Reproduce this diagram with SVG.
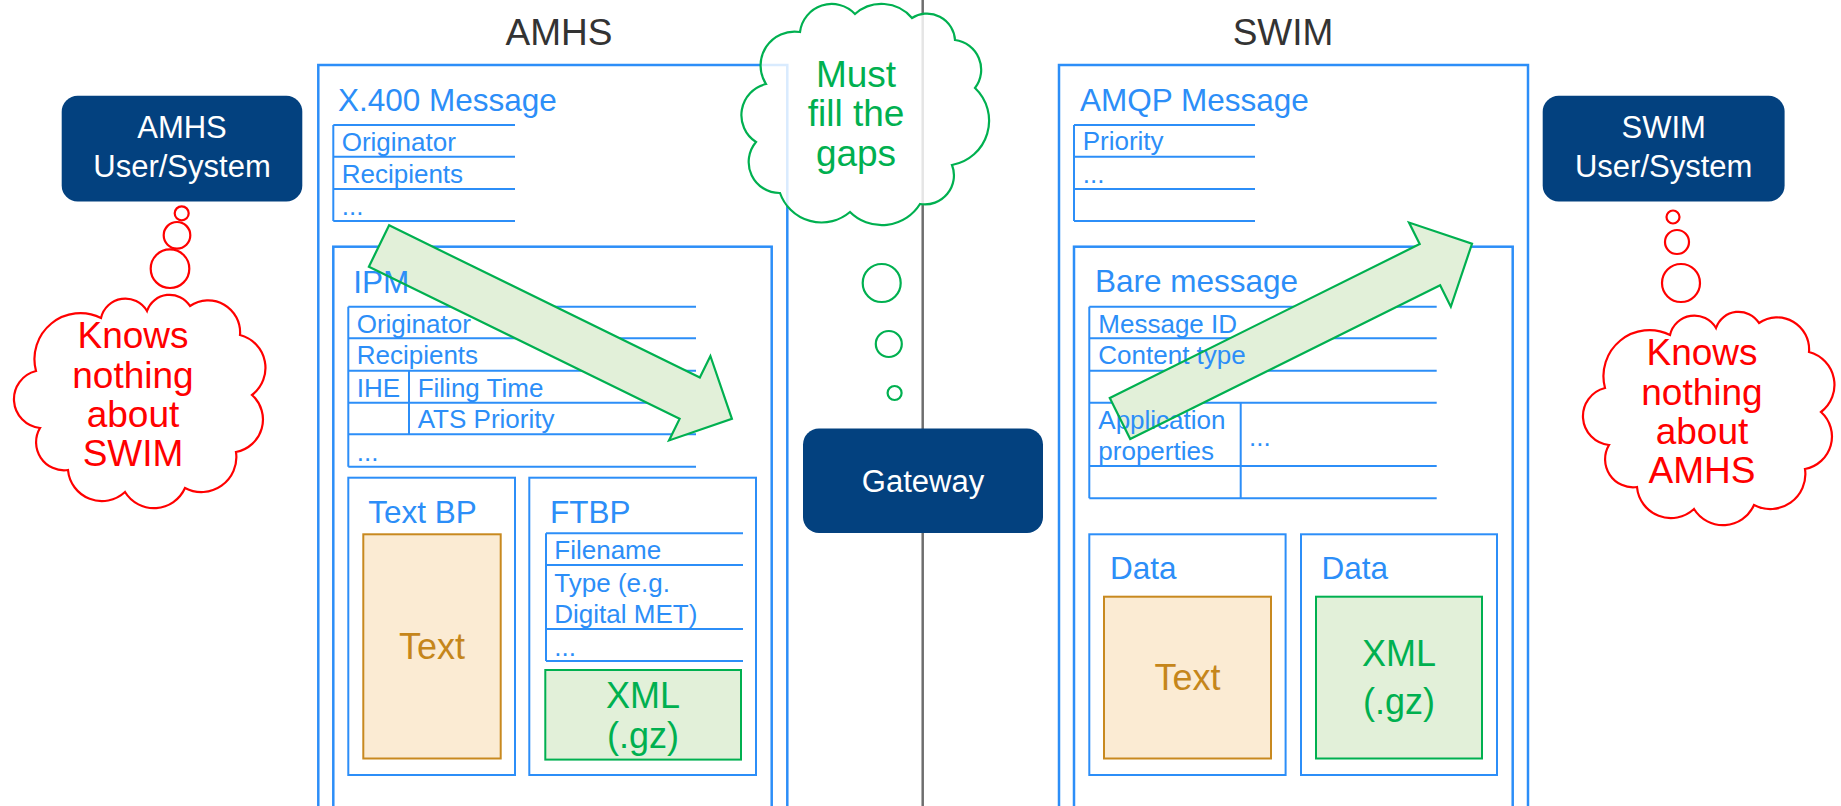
<svg xmlns="http://www.w3.org/2000/svg" width="1841" height="806" viewBox="0 0 1841 806">
<style>
text{font-family:"Liberation Sans",Arial,sans-serif}
.frame{fill:none;stroke:#2C8EF8;stroke-width:2.5}
.line{fill:none;stroke:#2C8EF8;stroke-width:2}
.bt{fill:#2C8EF8;font-size:26px}
.bh{fill:#2C8EF8;font-size:31.5px}
.title{fill:#333;font-size:37px;text-anchor:middle}
.navy{fill:#03417F}
.wt{fill:#fff;font-size:31px;text-anchor:middle}
.red{fill:#FF0000;font-size:37px;text-anchor:middle}
.grn{fill:#00B050;font-size:37px;text-anchor:middle}
.rc{fill:#fff;stroke:#FF0000;stroke-width:2.2}
.gc{fill:#fff;stroke:#00B050;stroke-width:2.2}
.txtbox{fill:#FBEBD3;stroke:#C8891F;stroke-width:2}
.xmlbox{fill:#E2F0D9;stroke:#00B050;stroke-width:2}
.ot{fill:#C5861B;font-size:36px;text-anchor:middle}
.xt{fill:#00B050;font-size:36px;text-anchor:middle}
.afill{fill:#E2F0D9;stroke:none}
.aline{fill:none;stroke:#00B050;stroke-width:2.2}
</style>
<defs>
<polygon id="arrowShape" points="0,-23 346,-23 346,-47 393,0 346,47 346,23 0,23"/>
</defs>

<!-- gateway axis line -->
<line x1="922.7" y1="0" x2="922.7" y2="806" stroke="#6E6E6E" stroke-width="2.5"/>

<text class="title" x="559" y="45">AMHS</text>
<text class="title" x="1283" y="45">SWIM</text>

<!-- AMHS side -->
<g id="amhs-frame">
<rect class="frame" x="318.3" y="65" width="469" height="760"/>
<text class="bh" x="338" y="111">X.400 Message</text>
<path class="line" d="M333.3 125H515M333.3 156.7H515M333.3 189H515M333.3 221H515M333.3 125V221"/>
<text class="bt" x="341.7" y="151">Originator</text>
<text class="bt" x="341.7" y="183">Recipients</text>
<text class="bt" x="341.7" y="215">...</text>
</g>

<g id="ipm-frame">
<rect class="frame" x="333.3" y="246.7" width="438.4" height="580"/>
<path class="line" d="M348.3 306.7H696M348.3 338.3H696M348.3 370.7H696M348.3 402.7H696M348.3 434.3H696M348.3 466.7H696M348.3 306.7V466.7M409 370.7V434.3"/>
</g>

<g id="swim-frame">
<rect class="frame" x="1059" y="65" width="469" height="760"/>
<text class="bh" x="1080" y="111">AMQP Message</text>
<path class="line" d="M1074 125H1255M1074 156.7H1255M1074 189H1255M1074 221H1255M1074 125V221"/>
<text class="bt" x="1082.7" y="150">Priority</text>
<text class="bt" x="1082.7" y="183">...</text>
</g>

<g id="bare-frame">
<rect class="frame" x="1074" y="246.7" width="438.7" height="580"/>
<path class="line" d="M1089.3 306.7H1436.7M1089.3 338.3H1436.7M1089.3 370.7H1436.7M1089.3 402.7H1436.7M1089.3 466H1436.7M1089.3 498.3H1436.7M1089.3 306.7V498.3M1240.7 402.7V498.3"/>
</g>

<!-- block arrow fills (under text) -->
<g id="arrow-fills">
<use href="#arrowShape" class="afill" transform="translate(379 246) rotate(26.1)"/>
<use href="#arrowShape" class="afill" transform="translate(1120 418.5) rotate(-26.4)"/>
</g>

<g id="ipm-fields">
<text class="bh" x="353.3" y="292.7">IPM</text>
<text class="bt" x="356.7" y="332.7">Originator</text>
<text class="bt" x="356.7" y="364.3">Recipients</text>
<text class="bt" x="356.7" y="396.7">IHE</text>
<text class="bt" x="417.7" y="396.7">Filing Time</text>
<text class="bt" x="417.7" y="428.3">ATS Priority</text>
<text class="bt" x="356.7" y="461">...</text>
</g>

<g id="bare-fields">
<text class="bh" x="1095" y="291.7">Bare message</text>
<text class="bt" x="1098.3" y="332.7">Message ID</text>
<text class="bt" x="1098.3" y="364.3">Content type</text>
<text class="bt" x="1098.3" y="429">Application</text>
<text class="bt" x="1098.3" y="460">properties</text>
<text class="bt" x="1249" y="446">...</text>
</g>

<g id="text-bp">
<rect class="line" x="348.3" y="477.7" width="166.7" height="297.3"/>
<text class="bh" x="368.3" y="523.3">Text BP</text>
<rect class="txtbox" x="363.3" y="534.3" width="137.4" height="224.2"/>
<text class="ot" x="432" y="659">Text</text>
</g>

<g id="ftbp">
<rect class="line" x="529.3" y="477.7" width="226.7" height="297.3"/>
<text class="bh" x="550" y="523.3">FTBP</text>
<path class="line" d="M546 533.3H743M546 565H743M546 629H743M546 661H743M546 533.3V661"/>
<text class="bt" x="554.3" y="559.3">Filename</text>
<text class="bt" x="554.3" y="591.7">Type (e.g.</text>
<text class="bt" x="554.3" y="622.7">Digital MET)</text>
<text class="bt" x="554.3" y="656">...</text>
<rect class="xmlbox" x="545.3" y="670" width="195.7" height="89.6"/>
<text class="xt" x="643" y="708">XML</text>
<text class="xt" x="643" y="748">(.gz)</text>
</g>

<g id="data-text">
<rect class="line" x="1089.3" y="534.3" width="196.3" height="240.7"/>
<text class="bh" x="1110" y="579.3">Data</text>
<rect class="txtbox" x="1104" y="596.7" width="167" height="161.8"/>
<text class="ot" x="1187.5" y="690">Text</text>
</g>

<g id="data-xml">
<rect class="line" x="1301" y="534.3" width="196" height="240.7"/>
<text class="bh" x="1321.5" y="579.3">Data</text>
<rect class="xmlbox" x="1316" y="596.7" width="166" height="161.8"/>
<text class="xt" x="1399" y="666">XML</text>
<text class="xt" x="1399" y="714">(.gz)</text>
</g>

<!-- block arrow outlines (on top) -->
<g id="connectors">
<use href="#arrowShape" class="aline" transform="translate(379 246) rotate(26.1)"/>
<use href="#arrowShape" class="aline" transform="translate(1120 418.5) rotate(-26.4)"/>
</g>

<g id="amhs-user">
<rect class="navy" x="61.7" y="95.7" width="240.6" height="105.8" rx="16"/>
<text class="wt" x="182" y="138">AMHS</text>
<text class="wt" x="182" y="177">User/System</text>
</g>

<g id="swim-user">
<rect class="navy" x="1542.7" y="95.7" width="241.9" height="105.8" rx="16"/>
<text class="wt" x="1663.7" y="138">SWIM</text>
<text class="wt" x="1663.7" y="177">User/System</text>
</g>

<g id="gateway">
<rect class="navy" x="803" y="428.5" width="240" height="104.5" rx="16"/>
<text class="wt" x="923" y="492">Gateway</text>
</g>

<g id="amhs-thought">
<circle class="rc" cx="181.7" cy="213.3" r="7"/>
<circle class="rc" cx="177" cy="235.3" r="13.3"/>
<circle class="rc" cx="170" cy="268.7" r="19.3"/>
<path class="rc" d="M36 371A46 46 0 0 1 101 318A25 25 0 0 1 147 311A24 24 0 0 1 190 306A32 32 0 0 1 240 335A34 34 0 0 1 252 395A33 33 0 0 1 236 452A35 35 0 0 1 185 488A34 34 0 0 1 125 492A34 34 0 0 1 68 470A28 28 0 0 1 40 428A29 29 0 0 1 36 371Z"/>
<text class="red" x="133" y="348">Knows</text>
<text class="red" x="133" y="388">nothing</text>
<text class="red" x="133" y="427">about</text>
<text class="red" x="133" y="466">SWIM</text>
</g>

<g id="swim-thought">
<circle class="rc" cx="1673" cy="217" r="6.5"/>
<circle class="rc" cx="1677" cy="242" r="12"/>
<circle class="rc" cx="1681" cy="283" r="19"/>
<path class="rc" transform="translate(1569 17)" d="M36 371A46 46 0 0 1 101 318A25 25 0 0 1 147 311A24 24 0 0 1 190 306A32 32 0 0 1 240 335A34 34 0 0 1 252 395A33 33 0 0 1 236 452A35 35 0 0 1 185 488A34 34 0 0 1 125 492A34 34 0 0 1 68 470A28 28 0 0 1 40 428A29 29 0 0 1 36 371Z"/>
<text class="red" x="1702" y="365">Knows</text>
<text class="red" x="1702" y="405">nothing</text>
<text class="red" x="1702" y="444">about</text>
<text class="red" x="1702" y="483">AMHS</text>
</g>

<g id="gateway-thought">
<circle class="gc" cx="894.6" cy="393" r="7"/>
<circle class="gc" cx="888.8" cy="344" r="13"/>
<circle class="gc" cx="881.7" cy="283" r="19"/>
<path class="gc" fill-opacity="0.82" d="M766 84A34 34 0 0 1 800 32A32 32 0 0 1 855 14A40 40 0 0 1 912 18A28 28 0 0 1 955 40A30 30 0 0 1 975 88A45 45 0 0 1 952 165A29 29 0 0 1 920 204A45 45 0 0 1 850 212A44 44 0 0 1 780 193A31 31 0 0 1 756 142A32 32 0 0 1 766 84Z"/>
<text class="grn" x="856" y="86.5">Must</text>
<text class="grn" x="856" y="126">fill the</text>
<text class="grn" x="856" y="165.5">gaps</text>
</g>
</svg>
